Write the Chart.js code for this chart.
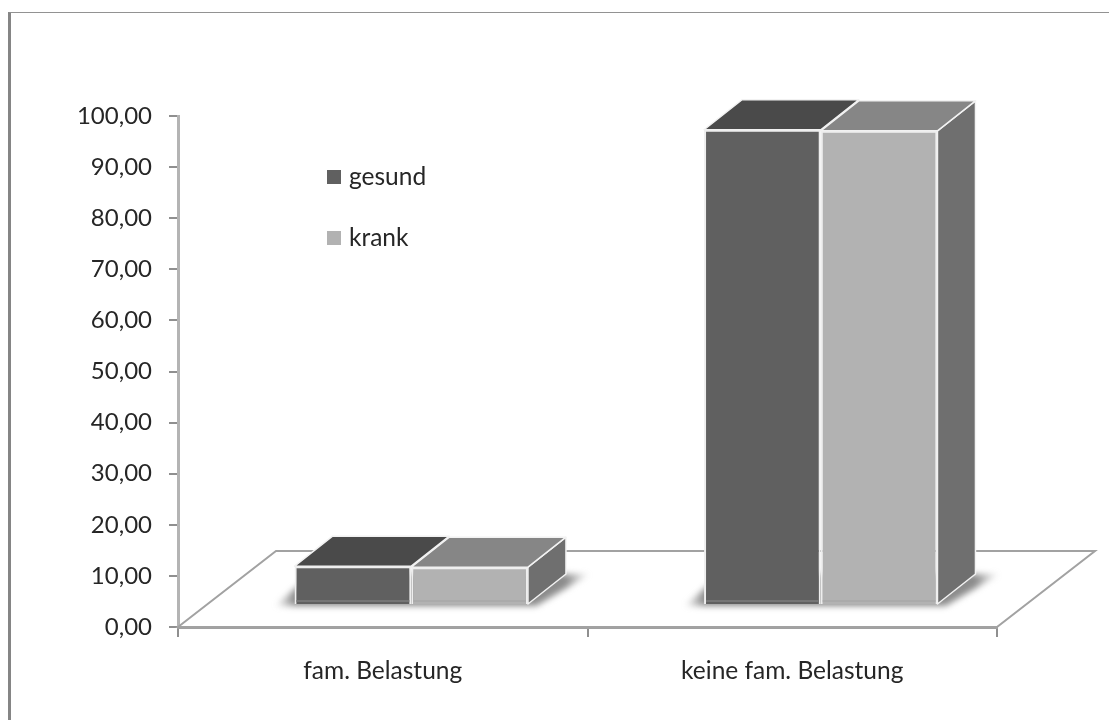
<!DOCTYPE html>
<html lang="de">
<head>
<meta charset="utf-8">
<title>fam. Belastung</title>
<script src="https://cdn.jsdelivr.net/npm/chart.js@4"></script>
<style>
    html, body { margin: 0; background: #ffffff; }
    #wrap { position: relative; width: 1109px; height: 720px; overflow: hidden; }
    #frame {
        position: absolute; left: 8px; top: 12px; right: -5px; bottom: -5px;
        border-left: 3px solid #858585; border-top: 1.5px solid #929292;
    }
    canvas { position: absolute; left: 0; top: 0; }
</style>
</head>
<body>
<div id="wrap">
    <div id="frame"></div>
    <canvas id="chart" width="1109" height="720"></canvas>
</div>
<script>
const categories = ["fam. Belastung", "keine fam. Belastung"];
const gesund = [7.6, 93];
const krank = [7.4, 92.8];
const yTickLabels = ["0,00", "10,00", "20,00", "30,00", "40,00", "50,00", "60,00", "70,00", "80,00", "90,00", "100,00"];

const fontFamily = "Lato, 'Open Sans', sans-serif";
const textColor = "#262626";
const axisColor = "#a0a0a0";

// depth of the fake 3d room and of the bars, in pixels
const floorDepth = { x: 98, y: -76 };
const barShift = { x: 28.5, y: -22 };
const barDepth = { x: 38, y: -30 };

const faces = [
    { front: "#606060", top: "#4a4a4a", side: "#5a5a5a", foot: "#767676" },
    { front: "#b2b2b2", top: "#868686", side: "#6f6f6f", foot: "#aaaaaa" }
];

function polygon(ctx, points) {
    ctx.beginPath();
    points.forEach(function (p, i) {
        if (i === 0) {
            ctx.moveTo(p[0], p[1]);
        } else {
            ctx.lineTo(p[0], p[1]);
        }
    });
    ctx.closePath();
}

const room3d = {
    id: "room3d",

    beforeDatasetsDraw(chart) {
        const ctx = chart.ctx;
        const area = chart.chartArea;
        const first = chart.getDatasetMeta(0).data;
        const last = chart.getDatasetMeta(chart.data.datasets.length - 1).data;

        ctx.save();

        // floor
        polygon(ctx, [
            [area.left, area.bottom],
            [area.left + floorDepth.x, area.bottom + floorDepth.y],
            [area.right + floorDepth.x, area.bottom + floorDepth.y],
            [area.right, area.bottom]
        ]);
        ctx.strokeStyle = "#a2a2a2";
        ctx.lineWidth = 2;
        ctx.stroke();

        // soft shadow round the foot of each bar pair, fading out sideways
        ctx.filter = "blur(3px)";
        first.forEach(function (bar, i) {
            const left = bar.x - bar.width / 2 + barShift.x;
            const right = last[i].x + last[i].width / 2 + barShift.x;
            const base = bar.base + barShift.y;
            const startX = left - 20;
            const endX = right + barDepth.x + 24;
            const fade = ctx.createLinearGradient(startX, 0, endX, 0);

            fade.addColorStop(0, "rgba(130,130,130,0)");
            fade.addColorStop((left - startX) / (endX - startX), "rgba(110,110,110,0.8)");
            fade.addColorStop((right + barDepth.x - startX) / (endX - startX), "rgba(110,110,110,0.8)");
            fade.addColorStop(1, "rgba(130,130,130,0)");

            polygon(ctx, [
                [startX, base + 2],
                [right + 8, base + 2],
                [endX, base + barDepth.y],
                [startX + barDepth.x, base + barDepth.y]
            ]);
            ctx.fillStyle = fade;
            ctx.fill();
        });

        ctx.restore();
    },

    beforeDatasetDraw(chart, args) {
        const ctx = chart.ctx;
        const isLast = args.index === chart.data.datasets.length - 1;
        const colors = faces[args.index];

        ctx.save();
        ctx.translate(barShift.x, barShift.y);
        ctx.strokeStyle = "#f2f2f2";
        ctx.lineWidth = 1.5;
        ctx.lineJoin = "round";

        args.meta.data.forEach(function (bar) {
            const left = bar.x - bar.width / 2;
            const right = bar.x + bar.width / 2;

            if (isLast) {
                polygon(ctx, [
                    [right, bar.y],
                    [right + barDepth.x, bar.y + barDepth.y],
                    [right + barDepth.x, bar.base + barDepth.y],
                    [right, bar.base]
                ]);
                ctx.fillStyle = colors.side;
                ctx.fill();
                ctx.stroke();
            }

            polygon(ctx, [
                [left, bar.y],
                [left + barDepth.x, bar.y + barDepth.y],
                [right + barDepth.x, bar.y + barDepth.y],
                [right, bar.y]
            ]);
            ctx.fillStyle = colors.top;
            ctx.fill();
            ctx.stroke();
        });
    },

    afterDatasetDraw(chart, args) {
        const ctx = chart.ctx;

        // slightly lighter strip at the foot of the front face
        ctx.fillStyle = faces[args.index].foot;
        args.meta.data.forEach(function (bar) {
            ctx.fillRect(bar.x - bar.width / 2 + 2, bar.base - 4, bar.width - 4, 2);
        });

        ctx.restore();
    },

    afterDraw(chart) {
        // legend sits inside the plot, like in the original
        const ctx = chart.ctx;
        const rows = [177, 238];

        ctx.save();
        ctx.font = "24.5px " + fontFamily;
        ctx.textBaseline = "middle";
        chart.data.datasets.forEach(function (ds, i) {
            ctx.fillStyle = ds.backgroundColor;
            ctx.fillRect(327, rows[i] - 7, 14, 14);
            ctx.fillStyle = textColor;
            ctx.fillText(ds.label, 349, rows[i]);
        });
        ctx.restore();
    }
};

new Chart(document.getElementById("chart"), {
    type: "bar",

    data: {
        labels: categories,

        datasets: [
            {
                label: "gesund",
                data: gesund,
                backgroundColor: faces[0].front,
                borderColor: "#eeeeee",
                borderWidth: 2,
                clip: false
            },
            {
                label: "krank",
                data: krank,
                backgroundColor: faces[1].front,
                borderColor: "#eeeeee",
                borderWidth: 2,
                clip: false
            }
        ]
    },

    plugins: [room3d],

    options: {
        responsive: false,
        animation: false,
        categoryPercentage: 0.57,
        barPercentage: 1,

        layout: {
            padding: { left: 0, right: 112, top: 116, bottom: 0 }
        },

        plugins: {
            legend: { display: false },
            tooltip: { enabled: false }
        },

        scales: {
            x: {
                afterFit(scale) {
                    scale.height = 93;
                },
                grid: {
                    offset: true,
                    drawOnChartArea: false,
                    color: "#8f8f8f",
                    lineWidth: 2,
                    tickLength: 10
                },
                border: { color: axisColor, width: 3 },
                ticks: {
                    color: textColor,
                    padding: 19,
                    maxRotation: 0,
                    font: { family: fontFamily, size: 24.5 }
                }
            },

            y: {
                min: 0,
                max: 100,
                afterFit(scale) {
                    scale.width = 178;
                },
                grid: {
                    drawOnChartArea: false,
                    color: "#8f8f8f",
                    lineWidth: 2,
                    tickLength: 9
                },
                border: { color: "#b4b4b4", width: 3 },
                ticks: {
                    stepSize: 10,
                    color: textColor,
                    padding: 17,
                    font: { family: fontFamily, size: 24 },
                    callback(value, index) {
                        return yTickLabels[index];
                    }
                }
            }
        }
    }
});
</script>
</body>
</html>
